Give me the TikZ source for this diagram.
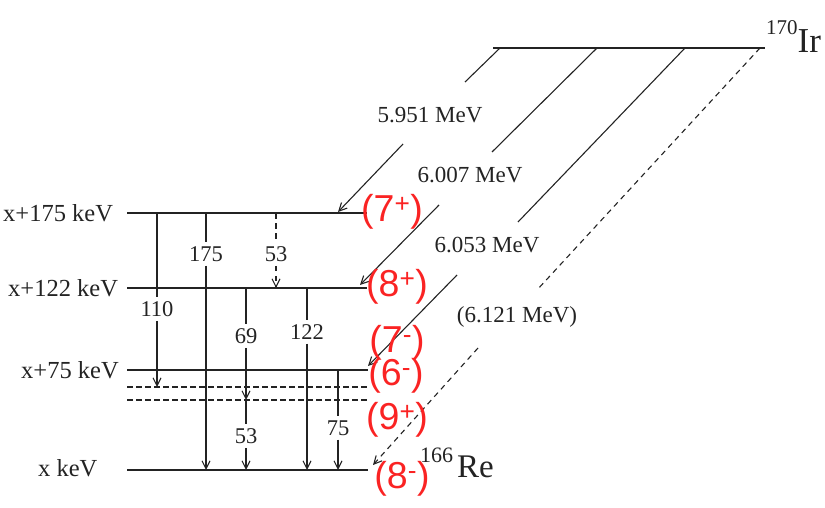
\documentclass[tikz,border=0pt]{standalone}
\usepackage{fontspec}
\setmainfont{Liberation Serif}
\newfontfamily\redfont{Liberation Sans}
\usetikzlibrary{arrows.meta}
\definecolor{ink}{RGB}{35,35,35}
\definecolor{spinred}{RGB}{250,35,35}
\begin{document}
\begin{tikzpicture}[x=1pt,y=-1pt,
  lvl/.style={draw=ink,line width=1.5pt},
  dlvl/.style={draw=ink,line width=1.2pt,dash pattern=on 5.5pt off 3.5pt},
  gam/.style={draw=ink,line width=1.1pt},
  dgam/.style={draw=ink,line width=1.1pt,dash pattern=on 5.5pt off 4.5pt},
  tip/.style={-{Straight Barb[length=8pt,width=8pt]}},
  lvlab/.style={text=ink,font=\fontsize{24.5}{28}\selectfont,anchor=west,inner sep=0pt},
  glab/.style={text=ink,font=\fontsize{22.5}{26}\selectfont,inner xsep=2pt,inner ysep=4pt},
  elab/.style={text=ink,font=\fontsize{23}{26}\selectfont,inner sep=0pt},
  spin/.style={text=spinred,font=\redfont\fontsize{37.5}{40}\selectfont,inner sep=0pt},
]
\useasboundingbox (0,0) rectangle (825,508);

% level lines
\coordinate (L175a) at (127,213); \coordinate (L175b) at (367,213);
\coordinate (L122a) at (127,288); \coordinate (L122b) at (367,288);
\coordinate (L75a) at (127,370);  \coordinate (L75b) at (368,370);
\coordinate (D1a) at (127,387);   \coordinate (D1b) at (368,387);
\coordinate (D2a) at (127,400);   \coordinate (D2b) at (368,400);
\coordinate (L0a) at (127,470);   \coordinate (L0b) at (368,470);
\coordinate (IRa) at (493,48);    \coordinate (IRb) at (765,48);

\draw[lvl] (L175a) -- (L175b);
\draw[lvl] (L122a) -- (L122b);
\draw[lvl] (L75a) -- (L75b);
\draw[dlvl] (D1a) -- (D1b);
\draw[dlvl] (D2a) -- (D2b);
\draw[lvl] (L0a) -- (L0b);
\draw[lvl] (IRa) -- (IRb);

% level labels
\node[lvlab] (t175) at (3,213) {x+175 keV};
\node[lvlab] (t122) at (8,288) {x+122 keV};
\node[lvlab] (t75) at (21,370) {x+75 keV};
\node[lvlab] (t0) at (38,468) {x keV};

% nucleus labels
\node[anchor=base west,inner sep=0pt,text=ink] (ir) at (766,53)
  {\raisebox{18pt}{\fontsize{21}{24}\selectfont 170}{\fontsize{35}{38}\selectfont Ir}};
\node[anchor=base west,inner sep=0pt,text=ink] (re) at (420,477)
  {\raisebox{15pt}{\fontsize{22}{24}\selectfont 166}\hspace{4pt}{\fontsize{33}{36}\selectfont Re}};

% gamma transitions
\coordinate (g110t) at (157,213); \coordinate (g110b) at (157,387);
\node[glab] (l110) at (157,309) {110};
\draw[gam] (g110t) -- (l110); \draw[gam,tip] (l110) -- (g110b);

\coordinate (g175t) at (206,213); \coordinate (g175b) at (206,470);
\node[glab] (l175) at (206,254) {175};
\draw[gam] (g175t) -- (l175); \draw[gam,tip] (l175) -- (g175b);

\coordinate (g53t) at (276,213); \coordinate (g53b) at (276,288);
\node[glab] (l53a) at (276,254) {53};
\draw[dgam] (g53t) -- (l53a); \draw[dgam,tip] (l53a) -- (g53b);

\coordinate (g69t) at (246,288); \coordinate (g69b) at (246,400);
\node[glab] (l69) at (246,336) {69};
\draw[gam] (g69t) -- (l69); \draw[gam,tip] (l69) -- (g69b);

\coordinate (g53bb) at (246,470);
\node[glab] (l53b) at (246,436) {53};
\draw[gam] (g69b) -- (l53b); \draw[gam,tip] (l53b) -- (g53bb);

\coordinate (g122t) at (307,288); \coordinate (g122b) at (307,470);
\node[glab] (l122) at (307,332) {122};
\draw[gam] (g122t) -- (l122); \draw[gam,tip] (l122) -- (g122b);

\coordinate (g75t) at (338,370); \coordinate (g75b) at (338,470);
\node[glab] (l75) at (338,428) {75};
\draw[gam] (g75t) -- (l75); \draw[gam,tip] (l75) -- (g75b);

% alpha transitions
\coordinate (a1t) at (500,48); \coordinate (a1m) at (465,82);
\coordinate (a1n) at (403,144); \coordinate (a1b) at (338,212);
\node[elab] (e1) at (430,115) {5.951 MeV};
\draw[gam] (a1t) -- (a1m); \draw[gam,tip] (a1n) -- (a1b);

\coordinate (a2t) at (597,48); \coordinate (a2m) at (492,152);
\coordinate (a2n) at (439,205); \coordinate (a2b) at (360,285);
\node[elab] (e2) at (470,175) {6.007 MeV};
\draw[gam] (a2t) -- (a2m); \draw[gam,tip] (a2n) -- (a2b);

\coordinate (a3t) at (685,48); \coordinate (a3m) at (518,222);
\coordinate (a3n) at (457,275); \coordinate (a3b) at (368,366);
\node[elab] (e3) at (487,245) {6.053 MeV};
\draw[gam] (a3t) -- (a3m); \draw[gam,tip] (a3n) -- (a3b);

\coordinate (a4t) at (760,48); \coordinate (a4m) at (537,290);
\coordinate (a4n) at (478,348); \coordinate (a4b) at (373,465);
\node[elab] (e4) at (517,317) {(6.121 MeV)};
\draw[dgam] (a4t) -- (a4m); \draw[dgam,tip] (a4n) -- (a4b);

% spin labels
\node[spin] (s7p) at (392,212) {(7\textsuperscript{+})};
\node[spin] (s8p) at (397,287) {(8\textsuperscript{+})};
\node[spin] (s7m) at (397,343) {(7\textsuperscript{-})};
\node[spin] (s6m) at (396,376) {(6\textsuperscript{-})};
\node[spin] (s9p) at (397,420) {(9\textsuperscript{+})};
\node[spin] (s8m) at (402,479) {(8\textsuperscript{-})};
\end{tikzpicture}
\end{document}
